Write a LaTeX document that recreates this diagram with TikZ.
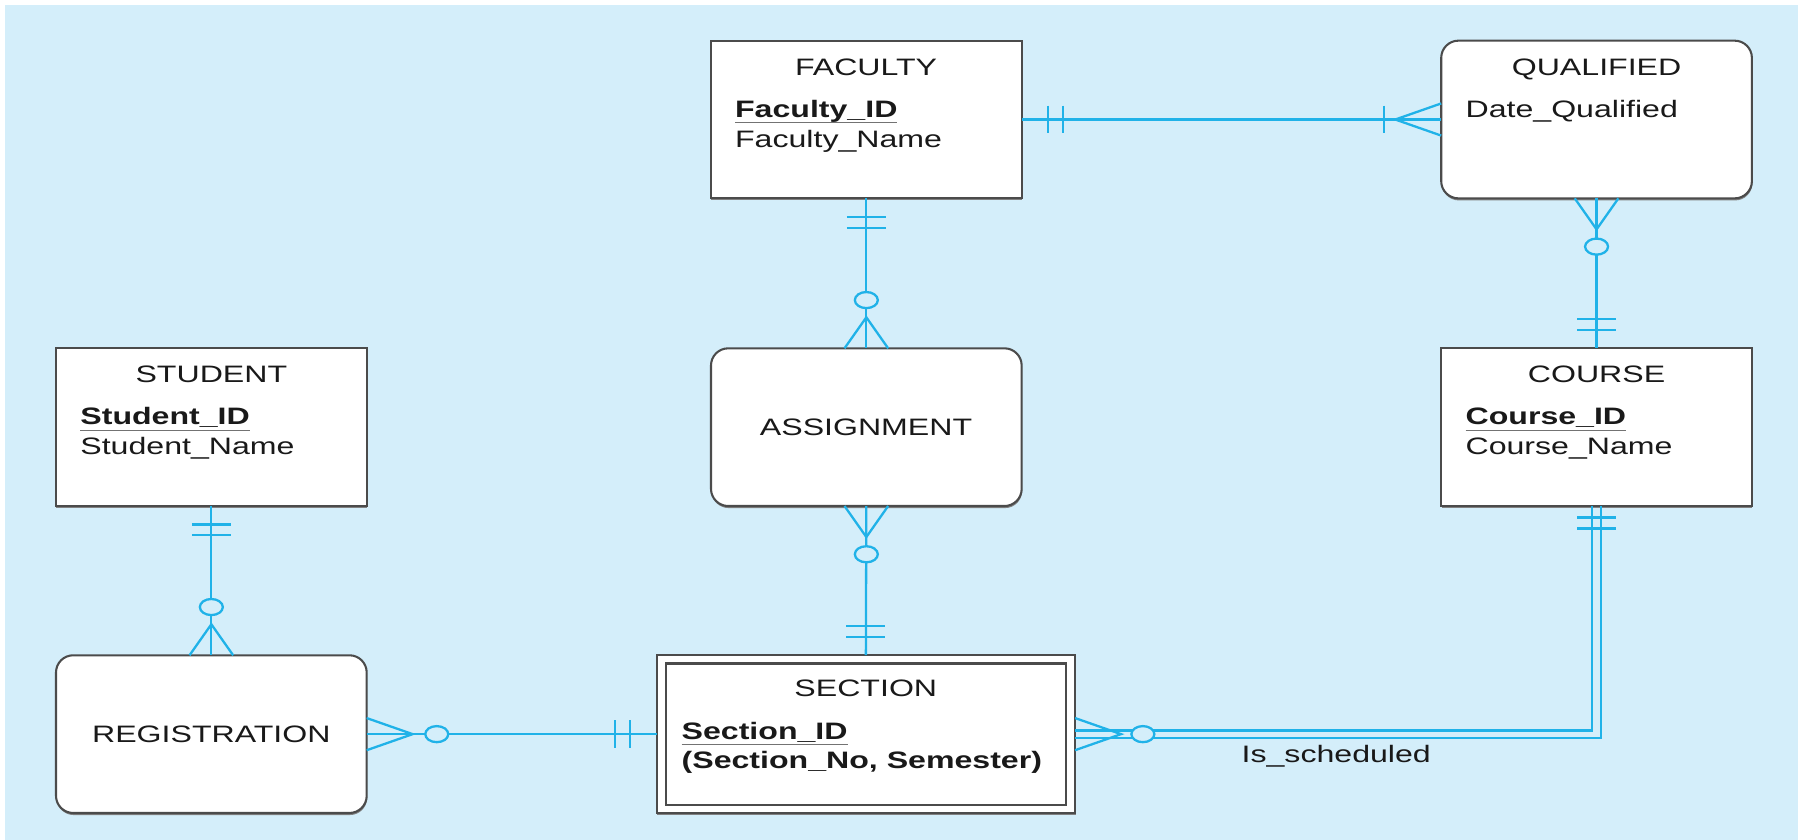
\documentclass[tikz,border=0pt]{standalone}
\usepackage{fontspec}
\setmainfont{Liberation Sans}[FakeStretch=1.35]
\usetikzlibrary{shadows,calc}
\definecolor{bg}{RGB}{212,238,250}
\definecolor{relc}{RGB}{32,178,232}
\definecolor{edgec}{RGB}{75,75,75}
\definecolor{ink}{RGB}{25,25,25}
\tikzset{
  ent/.style={draw=edgec, line width=1.8pt, fill=white, minimum width=270.5pt, minimum height=137.3pt,
    inner sep=0pt, outer sep=0pt, drop shadow={shadow xshift=0.4pt, shadow yshift=-1.8pt, fill=black!50, opacity=1}},
  assoc/.style={ent, rounded corners=15pt},
  lbl/.style={inner sep=0pt, outer sep=0pt, text=ink, font=\fontsize{20.7pt}{25pt}\selectfont},
  keyattr/.style={inner sep=0pt, outer sep=0pt, text=ink, font=\fontsize{20.7pt}{25pt}\selectfont\bfseries},
  uline/.style={draw=black!55, line width=1.2pt},
  relline/.style={draw=relc, line width=2pt},
  pics/hbar/.style={code={\draw[relline] (0,-12) -- (0,12);}},
  pics/vbar/.style={code={\draw[relline] (-17,0) -- (17,0);}},
  pics/zero/.style={code={\draw[relline, fill=bg] (0,0) ellipse [x radius=10, y radius=7];}},
  pics/crowR/.style={code={\draw[relline] (0,-14) -- (-40,0) -- (0,14);}},
  pics/crowL/.style={code={\draw[relline] (0,-14) -- (40,0) -- (0,14);}},
  pics/crowD/.style={code={\draw[relline] (-19,0) -- (0,-27) -- (19,0);}},
  pics/crowU/.style={code={\draw[relline] (-19,0) -- (0,27) -- (19,0);}},
}
\begin{document}
\begin{tikzpicture}[x=1pt,y=-1pt]
\useasboundingbox (0,0) rectangle (1568,731);
\fill[bg] (4.5,4.5) rectangle (1565,731);

% entities
\node[ent]   (faculty)   at (754.25,104.05) {};
\node[assoc] (qualified) at (1390,104.05) {};
\node[ent]   (student)   at (184,371.9) {};
\node[assoc] (assignment) at (754.25,371.9) {};
\node[ent]   (course)    at (1390,371.9) {};
\node[assoc] (registration) at (184,639.15) {};
\node[ent, minimum width=364.3pt, minimum height=137.7pt] (section) at (753.85,639.15) {};
\node[draw=edgec, line width=1.8pt, minimum width=348pt, minimum height=123pt, inner sep=0pt] (sectionIn) at (section.center) {};

% texts
\node[lbl, anchor=base] (facultyT) at (754,65.3) {FACULTY};
\node[keyattr, anchor=base west] (facultyK) at (640,102.1) {Faculty\_ID};
\node[lbl, anchor=base west] (facultyA) at (640,128.3) {Faculty\_Name};
\draw[uline] ([yshift=-4.7pt]facultyK.base west) -- ([yshift=-4.7pt]facultyK.base east);

\node[lbl, anchor=base] (qualifiedT) at (1390,65.3) {QUALIFIED};
\node[lbl, anchor=base west] (qualifiedA) at (1276,102.1) {Date\_Qualified};

\node[lbl, anchor=base] (studentT) at (184,332.6) {STUDENT};
\node[keyattr, anchor=base west] (studentK) at (70,370) {Student\_ID};
\node[lbl, anchor=base west] (studentA) at (70,395.5) {Student\_Name};
\draw[uline] ([yshift=-4.7pt]studentK.base west) -- ([yshift=-4.7pt]studentK.base east);

\node[lbl, anchor=base] (assignmentT) at (754,379.3) {ASSIGNMENT};

\node[lbl, anchor=base] (courseT) at (1390,332.6) {COURSE};
\node[keyattr, anchor=base west] (courseK) at (1276,370) {Course\_ID};
\node[lbl, anchor=base west] (courseA) at (1276,395.5) {Course\_Name};
\draw[uline] ([yshift=-4.7pt]courseK.base west) -- ([yshift=-4.7pt]courseK.base east);

\node[lbl, anchor=base] (registrationT) at (184,646.6) {REGISTRATION};

\node[lbl, anchor=base] (sectionT) at (753.8,606) {SECTION};
\node[keyattr, anchor=base west] (sectionK) at (593.5,643.7) {Section\_ID};
\node[keyattr, anchor=base west] (sectionA) at (593.5,669) {(Section\_No, Semester)};
\draw[uline] ([yshift=-4.5pt]sectionK.base west) -- ([yshift=-4.5pt]sectionK.base east);

\node[lbl, anchor=base west] (sched) at (1081,663.5) {Is\_scheduled};

% FACULTY -- QUALIFIED
\draw[relline] (faculty.east) -- (qualified.west);
\pic at ([xshift=23pt]faculty.east) {hbar};
\pic at ([xshift=36pt]faculty.east) {hbar};
\pic at ([xshift=-50pt]qualified.west) {hbar};
\pic at (qualified.west) {crowR};

% FACULTY -- ASSIGNMENT
\draw[relline] (faculty.south) -- (assignment.north);
\pic at ([yshift=-16pt]faculty.south) {vbar};
\pic at ([yshift=-25.5pt]faculty.south) {vbar};
\pic at ([yshift=42pt]assignment.north) {zero};
\pic at (assignment.north) {crowD};

% ASSIGNMENT -- SECTION
\draw[relline] (assignment.south) -- (section.north);
\pic at (assignment.south) {crowU};
\pic at ([yshift=-42pt]assignment.south) {zero};
\pic at ([yshift=16pt]section.north) {vbar};
\pic at ([yshift=25.5pt]section.north) {vbar};

% STUDENT -- REGISTRATION
\draw[relline] (student.south) -- (registration.north);
\pic at ([yshift=-16pt]student.south) {vbar};
\pic at ([yshift=-25.5pt]student.south) {vbar};
\pic at ([yshift=42pt]registration.north) {zero};
\pic at (registration.north) {crowD};

% QUALIFIED -- COURSE
\draw[relline] (qualified.south) -- (course.north);
\pic at (qualified.south) {crowU};
\pic at ([yshift=-42pt]qualified.south) {zero};
\pic at ([yshift=16pt]course.north) {vbar};
\pic at ([yshift=25.5pt]course.north) {vbar};

% REGISTRATION -- SECTION
\draw[relline] (registration.east) -- (section.west);
\pic at (registration.east) {crowL};
\pic at ([xshift=61pt]registration.east) {zero};
\pic at ([xshift=-36pt]section.west) {hbar};
\pic at ([xshift=-23pt]section.west) {hbar};

% SECTION -- COURSE (Is_scheduled, double line)
\draw[relline] ([yshift=3.2pt]section.east) -| ([xshift=-4pt]course.south);
\draw[relline] ([yshift=-3.2pt]section.east) -| ([xshift=4pt]course.south);
\pic at (section.east) {crowL};
\pic at ([xshift=59pt]section.east) {zero};
\pic at ([yshift=-10pt]course.south) {vbar};
\pic at ([yshift=-19.5pt]course.south) {vbar};
\end{tikzpicture}
\end{document}
